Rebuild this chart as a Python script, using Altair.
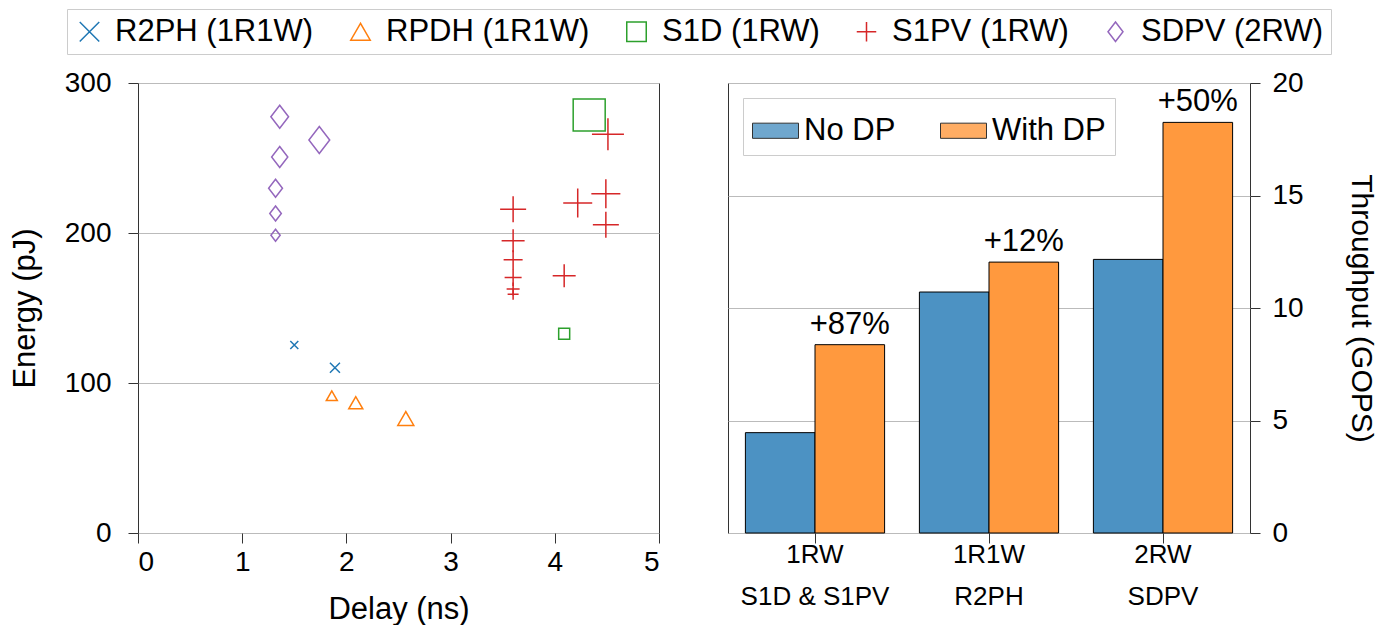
import altair as alt
import pandas as pd

# ---------------- data: left scatter ----------------
series = ["R2PH (1R1W)", "RPDH (1R1W)", "S1D (1RW)", "S1PV (1RW)", "SDPV (2RW)"]
series_colors = ["#1f77b4", "#ff7f0e", "#2ca02c", "#d62728", "#9467bd"]

r2ph_delay = [1.50, 1.89]
r2ph_energy = [125.3, 110.2]
r2ph_mag = [0.8, 1.0]

rpdh_delay = [1.86, 2.09, 2.57]
rpdh_energy = [91.5, 86.8, 76.3]
rpdh_mag = [1.1, 1.4, 1.6]

s1d_delay = [4.33, 4.09]
s1d_energy = [278.7, 132.9]
s1d_mag = [3.2, 1.1]

s1pv_delay = [4.51, 4.49, 4.49, 4.22, 3.60, 3.60, 3.60, 3.60, 3.60, 3.60, 4.09]
s1pv_energy = [265.8, 226.2, 205.5, 220.0, 215.8, 194.9, 182.2, 170.4, 162.7, 159.1, 171.5]
s1pv_mag = [3.2, 2.9, 2.6, 2.9, 2.6, 2.3, 1.9, 1.7, 1.3, 1.1, 2.3]

sdpv_delay = [1.36, 1.74, 1.36, 1.32, 1.32, 1.32]
sdpv_energy = [277.5, 262.0, 250.7, 229.8, 213.0, 198.5]
sdpv_mag = [2.3, 2.7, 2.1, 1.8, 1.5, 1.2]

# ---------------- data: right bars ----------------
groups = ["1RW\nS1D & S1PV", "1R1W\nR2PH", "2RW\nSDPV"]
dp_kinds = ["No DP", "With DP"]
no_dp = [4.46, 10.71, 12.16]
with_dp = [8.37, 12.04, 18.25]
gains = ["+87%", "+12%", "+50%"]

FONT = "Liberation Sans"

rows = []
for name, d, e, m in [
    (series[0], r2ph_delay, r2ph_energy, r2ph_mag),
    (series[1], rpdh_delay, rpdh_energy, rpdh_mag),
    (series[2], s1d_delay, s1d_energy, s1d_mag),
    (series[3], s1pv_delay, s1pv_energy, s1pv_mag),
    (series[4], sdpv_delay, sdpv_energy, sdpv_mag),
]:
    for a, b, c in zip(d, e, m):
        rows.append({"series": name, "delay": a, "energy": b, "mag": c})
pts = pd.DataFrame(rows)

shape_paths = [
    "M-1,-1L1,1M-1,1L1,-1",
    "triangle-up",
    "square",
    "M-1,0L1,0M0,-1L0,1",
    "M0,-1L0.77,0L0,1L-0.77,0Z",
]

top_legend = alt.Legend(
    title=None, orient="none", legendX=-71, legendY=-74, direction="horizontal",
    symbolSize=380, symbolStrokeWidth=1.5, labelFontSize=31, labelFont=FONT,
    labelOffset=10, columnPadding=31, padding=7, strokeColor="#cccccc",
    labelLimit=500, labelColor="black",
)

left = alt.Chart(pts).mark_point(filled=False, strokeWidth=1.5, opacity=1).encode(
    x=alt.X("delay:Q", scale=alt.Scale(domain=[0, 5], nice=False),
            axis=alt.Axis(title="Delay (ns)", values=[0, 1, 2, 3, 4, 5], grid=False,
                          labelPadding=5, titlePadding=18)),
    y=alt.Y("energy:Q", scale=alt.Scale(domain=[0, 300], nice=False),
            axis=alt.Axis(title="Energy (pJ)", values=[0, 100, 200, 300], grid=True,
                          labelPadding=17, titlePadding=23)),
    color=alt.Color("series:N", scale=alt.Scale(domain=series, range=series_colors), legend=top_legend),
    shape=alt.Shape("series:N", scale=alt.Scale(domain=series, range=shape_paths), legend=top_legend),
    size=alt.Size("mag:Q", scale=alt.Scale(type="pow", exponent=2, domain=[0, 4], range=[0, 1600]),
                  legend=None),
).properties(width=521, height=450)

bars_rows = []
for g, a, b in zip(groups, no_dp, with_dp):
    bars_rows.append({"group": g, "dp": dp_kinds[0], "thr": a})
    bars_rows.append({"group": g, "dp": dp_kinds[1], "thr": b})
bars_df = pd.DataFrame(bars_rows)
lab_df = pd.DataFrame({"group": groups, "dp": [dp_kinds[1]] * 3, "thr": with_dp, "gain": gains})

xenc = alt.X("group:N", sort=groups,
             scale=alt.Scale(domain=groups, paddingInner=0.2, paddingOuter=0.1),
             axis=alt.Axis(title=None, labelAngle=0, labelFontSize=26, labelLineHeight=42,
                           labelExpr="split(datum.label, '\\n')", labelPadding=-2, grid=False))
xoff = alt.XOffset("dp:N", scale=alt.Scale(domain=dp_kinds, paddingInner=0, paddingOuter=0))
yenc = alt.Y("thr:Q", scale=alt.Scale(domain=[0, 20], nice=False),
             axis=alt.Axis(title="Throughput (GOPS)", orient="right", values=[0, 5, 10, 15, 20],
                           grid=True, labelPadding=12, titlePadding=42, titleFontSize=30))

bars = alt.Chart(bars_df).mark_bar(stroke="black", strokeWidth=1).encode(
    x=xenc, xOffset=xoff, y=yenc,
    fill=alt.Fill("dp:N", scale=alt.Scale(domain=dp_kinds, range=["#4c92c3", "#ff993e"]),
                  legend=alt.Legend(
                      title=None, orient="top-left", offset=15, direction="horizontal",
                      symbolType="M-1,-0.33L1,-0.33L1,0.33L-1,0.33Z", symbolSize=2116,
                      symbolStrokeColor="black", symbolStrokeWidth=1, symbolOpacity=0.8,
                      labelFontSize=31, labelFont=FONT, labelOffset=5, columnPadding=42,
                      padding=9, strokeColor="#cccccc", fillColor="white", labelLimit=400,
                      labelColor="black")),
)
texts = alt.Chart(lab_df).mark_text(baseline="bottom", dy=-4, fontSize=31, font=FONT, color="black").encode(
    x=xenc, xOffset=xoff, y=yenc, text="gain:N")

right = alt.layer(bars, texts).properties(width=522, height=450)

chart = alt.hconcat(left, right, spacing=67).resolve_scale(
    fill="independent").resolve_legend(fill="independent").properties(
    padding={"left": 0, "top": 0, "right": 4, "bottom": 0}
).configure(font=FONT).configure_view(stroke="#333333", strokeWidth=1).configure_axis(
    domain=False, tickColor="#333333", tickSize=10, tickWidth=1,
    labelFontSize=28, titleFontSize=31, labelColor="black", titleColor="black",
    titleFontWeight="normal", gridColor="#bbbbbb", gridWidth=1, labelFont=FONT, titleFont=FONT,
)

chart.save("out.html", embed_options={"renderer": "svg", "actions": False})
